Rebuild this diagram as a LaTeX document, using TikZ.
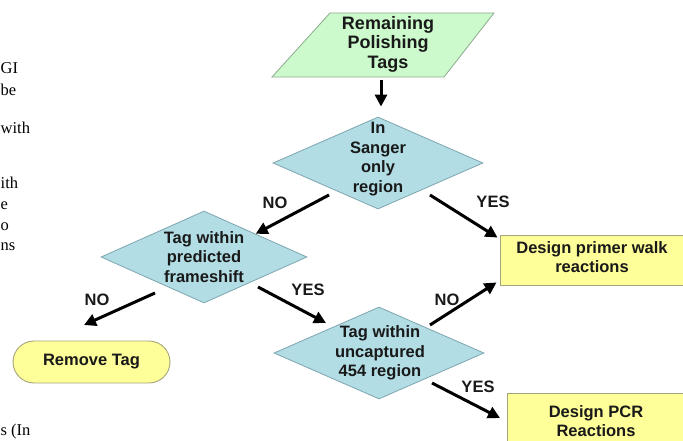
\documentclass[tikz,border=0pt]{standalone}
\usepackage{fontspec}
\setmainfont{Liberation Sans}
\newfontfamily\seriffont{Liberation Serif}
\usetikzlibrary{shapes.geometric,arrows.meta}
\definecolor{pgreen}{RGB}{204,250,204}
\definecolor{pgreenb}{RGB}{140,170,140}
\definecolor{dblue}{RGB}{178,221,228}
\definecolor{dblueb}{RGB}{125,165,175}
\definecolor{byel}{RGB}{255,255,153}
\definecolor{byelb}{RGB}{165,165,125}
\definecolor{txt}{RGB}{25,25,25}
\begin{document}
\begin{tikzpicture}[x=1pt,y=-1pt,
  lbl/.style={text=txt, align=center, inner sep=0pt, font=\fontsize{16.5}{19.5}\selectfont\bfseries},
  dec/.style={diamond, draw=dblueb, fill=dblue, line width=0.8pt, inner sep=0pt, minimum width=210pt, minimum height=92pt},
  outbox/.style={rectangle, draw=byelb, fill=byel, line width=0.9pt, inner sep=0pt},
  conn/.style={line width=3pt, draw=black, -{Triangle[length=12pt,width=12pt]}},
  frag/.style={anchor=base west, inner sep=0pt, text=black, font=\seriffont\fontsize{16.5}{16.5}\selectfont}]
\useasboundingbox (0,0) rectangle (683,441);
% start
\path[fill=pgreen, draw=pgreenb, line width=0.8pt] (330,13) -- (494,13) -- (444,77) -- (272,77) -- cycle;
\node[lbl, font=\fontsize{18}{19.5}\selectfont\bfseries] (start) at (388,44) {Remaining\\Polishing\\Tags};
% decisions
\node[dec] (d1) at (378,163) {};
\node[lbl] (d1t) at (378,159) {In\\Sanger\\only\\region};
\node[dec, minimum width=206pt] (d2) at (204,257) {};
\node[lbl] (d2t) at (204,257) {Tag within\\predicted\\frameshift};
\node[dec] (d3) at (379,353) {};
\node[lbl] (d3t) at (380,353) {Tag within\\uncaptured\\454 region};
% outcomes
\node[outbox, minimum width=186pt, minimum height=50pt] (b1) at (593,260) {};
\node[lbl] (b1t) at (592,257) {Design primer walk\\reactions};
\node[outbox, minimum width=178pt, minimum height=60pt] (b2) at (596,423) {};
\node[lbl] (b2t) at (596,421) {Design PCR\\Reactions};
\node[outbox, rounded corners=21pt, minimum width=157pt, minimum height=42pt] (rm) at (91.5,362) {};
\node[lbl] (rmt) at (91.5,362) {Remove Tag};
% connectors
\coordinate (s0) at (381,80);
\draw[conn, shorten >=10pt] (s0) -- (s0 |- d1.north);
\coordinate (a1s) at (329,195);
\draw[conn] (a1s) -- (d2.north east);
\coordinate (a2s) at (430,195);
\draw[conn] (a2s) -- ([xshift=-2pt,yshift=-3pt]b1.north west);
\coordinate (a3s) at (155,293);
\coordinate (a3e) at (84,325);
\draw[conn] (a3s) -- (a3e);
\coordinate (a4s) at (258,287);
\coordinate (a4e) at (326,323);
\draw[conn] (a4s) -- (a4e);
\coordinate (a5s) at (430,325);
\draw[conn] (a5s) -- ([xshift=-3pt,yshift=3pt]b1.south west);
\coordinate (a6s) at (432,383);
\coordinate (a6e) at (500,418);
\draw[conn] (a6s) -- (a6e);
% labels
\node[lbl] (no1) at (275,203) {NO};
\node[lbl] (yes1) at (493,202) {YES};
\node[lbl] (no2) at (97,300) {NO};
\node[lbl] (yes2) at (308,290) {YES};
\node[lbl] (no3) at (447,300) {NO};
\node[lbl] (yes3) at (478,387) {YES};
% cut-off page text
\node[frag] (f1) at (0.5,74) {GI};
\node[frag] (f2) at (0.5,96) {be};
\node[frag] (f3) at (0.5,134) {with};
\node[frag] (f4) at (0.5,189) {ith};
\node[frag] (f5) at (0.5,209) {e};
\node[frag] (f6) at (0.5,230) {o};
\node[frag] (f7) at (0.5,250) {ns};
\node[frag] (f8) at (0.5,435) {s (In};
\end{tikzpicture}
\end{document}
